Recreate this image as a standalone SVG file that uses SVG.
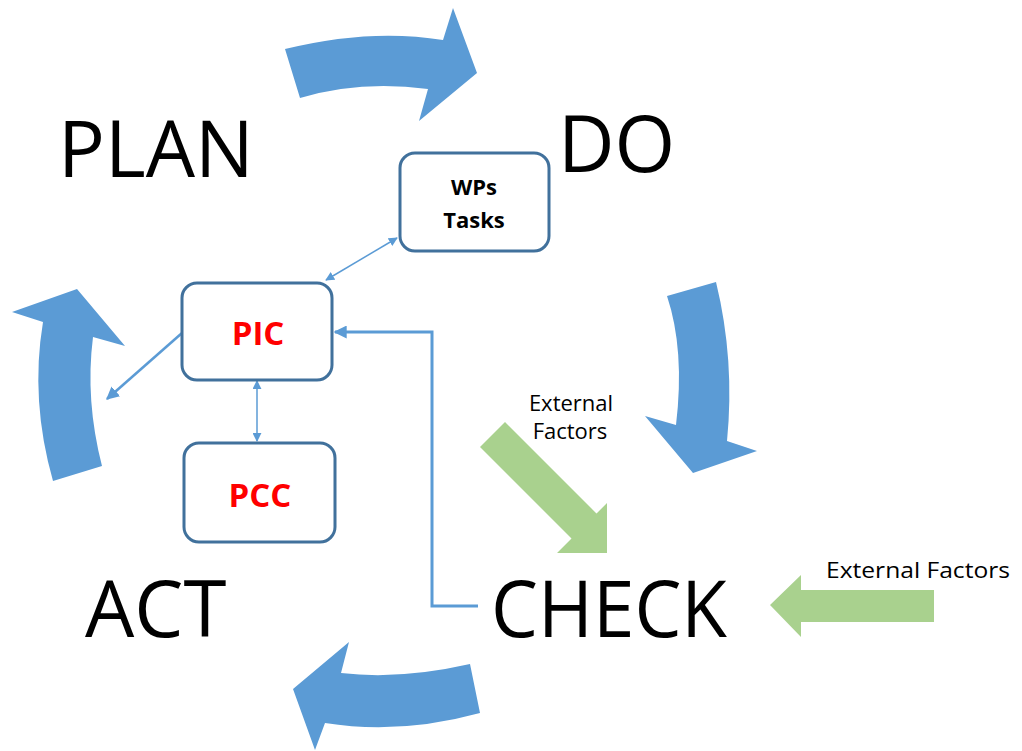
<svg xmlns="http://www.w3.org/2000/svg" width="1022" height="751" viewBox="0 0 1022 751">
<defs>
<style>
.big{font-family:"Open Sans","Liberation Sans",sans-serif;font-size:78px;fill:#000}
.small{font-family:"Open Sans","Liberation Sans",sans-serif;font-size:22px;fill:#000}
.box{fill:#fff;stroke:#41719C;stroke-width:3}
.bt{font-family:"Open Sans","Liberation Sans",sans-serif;font-weight:bold;text-anchor:middle}
.red{fill:#FF0000;font-size:33px}
.blk{fill:#000;font-size:22px}
.cycle{fill:#5B9BD5}
.ext{fill:#A9D18E}
.conn{fill:none;stroke:#5B9BD5}
</style>
<marker id="ah" viewBox="0 0 10 10" refX="9" refY="5" markerWidth="9" markerHeight="9" markerUnits="userSpaceOnUse" orient="auto-start-reverse">
<path d="M0,0 L10,5 L0,10 Z" fill="#5B9BD5"/>
</marker>
<marker id="ahb" viewBox="0 0 10 10" refX="9" refY="5" markerWidth="13" markerHeight="13" markerUnits="userSpaceOnUse" orient="auto">
<path d="M0,0 L10,5 L0,10 Z" fill="#5B9BD5"/>
</marker>
</defs>
<rect width="1022" height="751" fill="#fff"/>

<g id="cycle-arrows">
<path class="cycle" d="M285,49 Q370,28 443,40 L453,8 L477,73 L419,121 L428,89 Q360,80 300,98 Z"/>
<path class="cycle" d="M667,296 L716,282 Q735,360 727,441 L757,451 L693,473 L645,416 L676,425 Q685,350 667,296 Z"/>
<path class="cycle" d="M480,713 Q400,735 325,723 L315,750 L293,689 L349,642 L341,673 Q400,680 470,664 Z"/>
<path class="cycle" d="M53,481 Q30,400 43,322 L12,312 L77,289 L125,346 L93,337 Q85,400 102,466 Z"/>
</g>

<g id="external-arrows">
<path class="ext" d="M505,422 L596.5,513.5 L607,503 L607,553 L557,553 L571.5,538.5 L480,447 Z"/>
<path class="ext" d="M934,590 L801,590 L801,575 L770,605 L801,637 L801,622 L934,622 Z"/>
</g>

<g id="labels">
<text class="big" x="58" y="177">PLAN</text>
<text class="big" x="558" y="172">DO</text>
<text class="big" x="85" y="637">ACT</text>
<text class="big" x="491" y="637" textLength="236" lengthAdjust="spacingAndGlyphs">CHECK</text>
<text class="small" x="571" y="411" text-anchor="middle">External</text>
<text class="small" x="570" y="439" text-anchor="middle">Factors</text>
<text class="small" x="826" y="578" textLength="184" lengthAdjust="spacingAndGlyphs">External Factors</text>
</g>

<g id="connectors">
<line class="conn" x1="397" y1="238" x2="326" y2="280" stroke-width="1.5" marker-start="url(#ah)" marker-end="url(#ah)"/>
<line class="conn" x1="257" y1="381" x2="257" y2="441" stroke-width="1.5" marker-start="url(#ah)" marker-end="url(#ah)"/>
<line class="conn" x1="182" y1="333" x2="107" y2="399" stroke-width="2.5" marker-end="url(#ahb)"/>
<polyline class="conn" points="478,606 432,606 432,332 335,332" stroke-width="3" marker-end="url(#ahb)"/>
</g>

<g id="node-wps">
<rect class="box" x="400" y="153" width="149" height="98" rx="15"/>
<text class="bt blk" x="474" y="195">WPs</text>
<text class="bt blk" x="474" y="228">Tasks</text>
</g>
<g id="node-pic">
<rect class="box" x="182" y="283" width="150" height="97" rx="15"/>
<text class="bt red" x="258" y="345">PIC</text>
</g>
<g id="node-pcc">
<rect class="box" x="184" y="443" width="151" height="99" rx="15"/>
<text class="bt red" x="260" y="507">PCC</text>
</g>
</svg>
